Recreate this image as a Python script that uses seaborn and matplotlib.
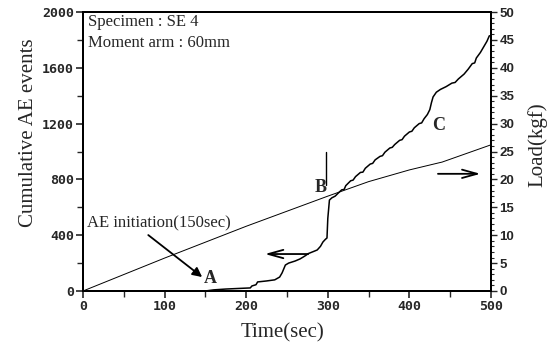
import matplotlib
matplotlib.use("Agg")
import matplotlib.pyplot as plt
from matplotlib.ticker import MultipleLocator
import pandas as pd
import seaborn as sns

# Cumulative acoustic-emission count over time
time_ae = [0, 150, 160, 175, 190, 205, 207, 212, 214, 225,
           235, 241, 244, 248, 252, 260, 266, 270, 273, 276,
           282, 287, 291, 294, 297, 299, 300, 302, 305, 309,
           313, 317, 320, 322, 328, 331, 334, 340, 343, 346,
           352, 355, 358, 364, 367, 370, 376, 379, 382, 388,
           391, 394, 400, 403, 406, 412, 415, 418, 422, 425,
           427, 429, 433, 438, 445, 452, 456, 460, 467, 472,
           477, 480, 482, 487, 491, 495, 498]
ae_events = [0, 0, 8, 14, 18, 22, 36, 45, 65, 72,
             80, 100, 130, 186, 200, 215, 230, 244, 255, 268,
             282, 294, 320, 351, 370, 380, 520, 652, 668, 680,
             703, 725, 728, 755, 790, 795, 820, 850, 852, 880,
             910, 915, 940, 965, 970, 995, 1025, 1030, 1050, 1080,
             1085, 1110, 1140, 1145, 1170, 1200, 1205, 1235, 1265, 1300,
             1350, 1391, 1425, 1445, 1465, 1490, 1495, 1520, 1555, 1590,
             1630, 1635, 1670, 1710, 1750, 1790, 1830]

# Applied load over time
time_load = [0, 100, 200, 250, 300, 350, 400, 437, 440, 500]
load_kgf = [0, 5.9, 11.6, 14.3, 17.0, 19.6, 21.7, 23.0, 23.1, 26.2]

# Event markers
onset_time, onset_events = 150, 100
b_time, b_events = 298, [760, 1000]

ae_df = pd.DataFrame({"time": time_ae, "events": ae_events})
load_df = pd.DataFrame({"time": time_load, "load": load_kgf})

sns.set_theme(style="ticks")
plt.rcParams["font.family"] = ["Liberation Serif", "DejaVu Serif"]

fig = plt.figure(figsize=(5.54, 3.49), dpi=100)
ax = fig.add_axes([0.1498, 0.1662, 0.7365, 0.7994])

sns.lineplot(data=ae_df, x="time", y="events", ax=ax, color="black",
             lw=1.1, sort=False, estimator=None)
ax2 = ax.twinx()
sns.lineplot(data=load_df, x="time", y="load", ax=ax2, color="black",
             lw=0.7, sort=False, estimator=None)

ax.set_xlim(0, 500)
ax.set_ylim(0, 2000)
ax2.set_ylim(0, 50)

ax.xaxis.set_major_locator(MultipleLocator(100))
ax.xaxis.set_minor_locator(MultipleLocator(50))
ax.yaxis.set_major_locator(MultipleLocator(400))
ax.yaxis.set_minor_locator(MultipleLocator(200))
ax2.yaxis.set_major_locator(MultipleLocator(5))
ax2.yaxis.set_minor_locator(MultipleLocator(1))

ax.tick_params(which="major", direction="out", length=5, width=1.2, pad=1.5)
ax.tick_params(which="minor", direction="out", length=4, width=1.0)
ax2.tick_params(which="major", direction="out", length=4, width=1.0, pad=2)
ax2.tick_params(which="minor", direction="out", length=2, width=0.8)

for lab in ax.get_xticklabels() + ax.get_yticklabels():
    lab.set_fontfamily("DejaVu Sans Mono")
    lab.set_fontweight("bold")
    lab.set_fontsize(9.5)
for lab in ax2.get_yticklabels():
    lab.set_fontfamily("Liberation Sans")
    lab.set_fontweight("bold")
    lab.set_fontsize(9.5)

for a in (ax, ax2):
    for s in a.spines.values():
        s.set_linewidth(1.4)
        s.set_color("black")

ax.set_xlabel("Time(sec)", fontsize=15)
ax.xaxis.set_label_coords(0.49, -0.115)
ax.set_ylabel("Cumulative AE events", fontsize=15)
ax.yaxis.set_label_coords(-0.11, 0.566)
ax2.set_ylabel("Load(kgf)", fontsize=15, rotation=90)
ax2.yaxis.set_label_coords(1.09, 0.523)

# Specimen description
ax.text(6, 1928, "Specimen : SE 4", fontsize=12, ha="left", va="center")
ax.text(6, 1778, "Moment arm : 60mm", fontsize=12, ha="left", va="center")

# AE onset call-out
ax.text(5, 487, "AE initiation(150sec)", fontsize=12, ha="left", va="center")
ax.annotate("", xy=(onset_time - 4, onset_events), xytext=(80, 401),
            arrowprops=dict(arrowstyle="-|>", color="black", lw=1.3,
                            mutation_scale=14, shrinkA=0, shrinkB=0))
ax.text(156, 93, "A", fontsize=13, fontweight="bold", ha="center", va="center")

# Point B marker
ax.plot([b_time, b_time], b_events, color="black", lw=1.0)
ax.text(291, 745, "B", fontsize=13, fontweight="bold", ha="center", va="center")
ax.text(436, 1183, "C", fontsize=13, fontweight="bold", ha="center", va="center")

# Arrows pointing each curve to its axis
ax.annotate("", xy=(223, 265), xytext=(276, 265),
            arrowprops=dict(arrowstyle="->,head_length=0.9,head_width=0.25",
                            color="black", lw=1.3, shrinkA=0, shrinkB=0))
ax2.annotate("", xy=(487, 21), xytext=(435, 21),
             arrowprops=dict(arrowstyle="->,head_length=0.9,head_width=0.25",
                             color="black", lw=1.3, shrinkA=0, shrinkB=0))

fig.savefig("out.png", dpi=100)
